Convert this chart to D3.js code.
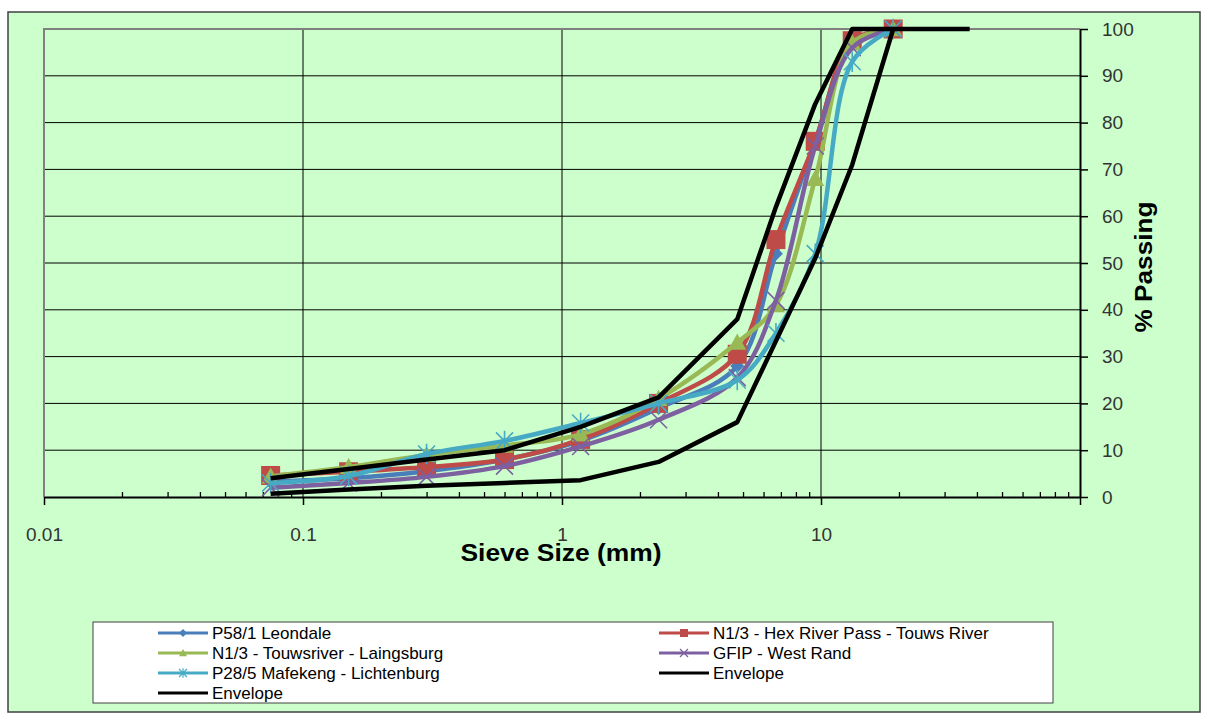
<!DOCTYPE html>
<html>
<head>
<meta charset="utf-8">
<script src="https://cdn.jsdelivr.net/npm/d3@7"></script>
<style>
body { margin: 0; background: #fff; }
text { font-family: "Liberation Sans", Arial, sans-serif; }
</style>
</head>
<body>
<svg width="1205" height="718"></svg>
<script>
// sieve sizes (mm) and % passing
var sieves = [0.075, 0.15, 0.3, 0.6, 1.18, 2.36, 4.75, 6.7, 9.5, 13.2, 19];
var leondale = [3.3, 4, 5.5, 8, 12, 19, 28, 52, 76, 97, 100];
var hexRiver = [4.6, 5.4, 6.4, 8, 12.3, 20, 30.5, 55, 76, 97.5, 100];
var touwsriver = [4.4, 6.4, 9, 11, 13.4, 21, 33, 41, 68, 97, 100];
var gfip = [2, 3, 4.3, 6.6, 10.8, 16.5, 25.5, 42, 75, 96, 100];
var mafikeng = [3, 4.5, 9.2, 12, 15.8, 20, 25, 35, 52, 93, 100];

var upperSieves = [0.075, 0.15, 0.3, 0.6, 1.18, 2.36, 4.75, 6.7, 9.5, 13.2, 19, 37.5];
var upperEnv = [4, 6, 8, 10, 15, 21.3, 38, 62, 84, 100, 100, 100];
var lowerSieves = [0.075, 0.15, 0.3, 0.6, 1.18, 2.36, 4.75, 9.5, 13.2, 19];
var lowerEnv = [0.7, 1.6, 2.4, 3, 3.6, 7.5, 16, 51, 71, 100];

var xTicks = [0.01, 0.1, 1, 10, 100];
var xTickLabels = ["0.01", "0.1", "1", "10", ""];
var yTicks = [0, 10, 20, 30, 40, 50, 60, 70, 80, 90, 100];

var svg = d3.select("svg");
var pLeft = 44, pRight = 1080, pTop = 29, pBottom = 497;

var x = d3.scaleLog().domain([0.01, 100]).range([pLeft, pRight]);
var y = d3.scaleLinear().domain([0, 100]).range([pBottom, pTop]);

// chart area
svg.append("rect").attr("x", 8).attr("y", 12).attr("width", 1192).attr("height", 700)
  .attr("fill", "#ccffcc").attr("stroke", "#404040").attr("stroke-width", 1.5);

// gridlines
svg.append("g").selectAll("line").data(yTicks.slice(1, 10)).enter().append("line")
  .attr("x1", pLeft).attr("x2", pRight).attr("y1", y).attr("y2", y)
  .attr("stroke", "#000").attr("stroke-width", 1);
svg.append("g").selectAll("line").data([0.1, 1, 10]).enter().append("line")
  .attr("x1", x).attr("x2", x).attr("y1", pTop).attr("y2", pBottom)
  .attr("stroke", "#000").attr("stroke-width", 1);

// plot border top/left
svg.append("path").attr("d", "M" + pLeft + "," + pBottom + "V" + pTop + "H" + pRight)
  .attr("fill", "none").attr("stroke", "#808080").attr("stroke-width", 2);

// minor x ticks (inside)
var minor = [];
[0.01, 0.1, 1, 10].forEach(function(d) {
  for (var k = 2; k < 10; k++) minor.push(d * k);
});
svg.append("g").attr("transform", "translate(0," + pBottom + ")")
  .call(d3.axisBottom(x).tickValues(minor).tickSize(-5).tickFormat(""))
  .call(function(g) { g.select(".domain").remove(); })
  .selectAll("line").attr("stroke", "#000").attr("stroke-width", 1.3);

// major x axis
var xa = svg.append("g").attr("transform", "translate(0," + pBottom + ")")
  .call(d3.axisBottom(x).tickValues(xTicks).tickSizeInner(8).tickSizeOuter(0)
    .tickFormat(function(d, i) { return xTickLabels[i]; }));
xa.select(".domain").attr("stroke", "#000").attr("stroke-width", 2);
xa.selectAll("line").attr("stroke", "#000").attr("stroke-width", 1.5);
xa.selectAll("text").attr("y", 31).attr("dy", "0.71em").attr("font-size", 19)
  .attr("fill", "#333").attr("font-family", "Liberation Sans, Arial, sans-serif");

// y axis on the right
var ya = svg.append("g").attr("transform", "translate(" + pRight + ",0)")
  .call(d3.axisRight(y).tickValues(yTicks).tickSizeInner(8).tickSizeOuter(0).tickPadding(14));
ya.select(".domain").attr("stroke", "#000").attr("stroke-width", 2);
ya.selectAll("line").attr("stroke", "#000").attr("stroke-width", 1.5);
ya.selectAll("text").attr("font-size", 19).attr("fill", "#333")
  .attr("font-family", "Liberation Sans, Arial, sans-serif");

// axis titles
svg.append("text").attr("x", 561).attr("y", 561).attr("text-anchor", "middle")
  .attr("font-size", 24).attr("font-weight", "bold").attr("textLength", 201)
  .attr("lengthAdjust", "spacingAndGlyphs").text("Sieve Size (mm)");
svg.append("text").attr("transform", "translate(1152,267) rotate(-90)")
  .attr("text-anchor", "middle").attr("font-size", 24).attr("font-weight", "bold")
  .attr("textLength", 131).attr("lengthAdjust", "spacingAndGlyphs").text("% Passing");

// marker shapes
function marker(type, s) {
  var h = s / 2;
  if (type == "diamond") return "M0," + (-h) + "L" + h + ",0L0," + h + "L" + (-h) + ",0Z";
  if (type == "square") return "M" + (-h) + "," + (-h) + "h" + s + "v" + s + "h" + (-s) + "Z";
  if (type == "triangle") return "M0," + (-h) + "L" + h + "," + (h * 0.8) + "L" + (-h) + "," + (h * 0.8) + "Z";
  if (type == "x") return "M" + (-h) + "," + (-h) + "L" + h + "," + h + "M" + (-h) + "," + h + "L" + h + "," + (-h);
  if (type == "star") return "M" + (-h) + "," + (-h) + "L" + h + "," + h + "M" + (-h) + "," + h + "L" + h + "," + (-h) + "M0," + (-h * 1.2) + "V" + (h * 1.2);
  return "";
}

var series = [
  { name: "P58/1 Leondale", vals: leondale, color: "#4a7ebb", m: "diamond", size: 14, filled: true },
  { name: "N1/3 - Hex River Pass - Touws River", vals: hexRiver, color: "#be4b48", m: "square", size: 19, filled: true },
  { name: "N1/3 - Touwsriver - Laingsburg", vals: touwsriver, color: "#98b954", m: "triangle", size: 18, filled: true },
  { name: "GFIP - West Rand", vals: gfip, color: "#7d60a0", m: "x", size: 17, filled: false },
  { name: "P28/5 Mafekeng - Lichtenburg", vals: mafikeng, color: "#46aac5", m: "star", size: 17, filled: false }
];

var smooth = d3.line().x(function(d) { return x(d[0]); }).y(function(d) { return y(d[1]); })
  .curve(d3.curveCatmullRom);
var straight = d3.line().x(function(d) { return x(d[0]); }).y(function(d) { return y(d[1]); });

series.forEach(function(s) {
  var pts = d3.zip(sieves, s.vals);
  var g = svg.append("g");
  g.append("path").attr("d", smooth(pts)).attr("fill", "none")
    .attr("stroke", s.color).attr("stroke-width", 4.5).attr("stroke-linejoin", "round");
  g.selectAll("path.mk").data(pts).enter().append("path").attr("class", "mk")
    .attr("transform", function(d) { return "translate(" + x(d[0]) + "," + y(d[1]) + ")"; })
    .attr("d", marker(s.m, s.size))
    .attr("fill", s.filled ? s.color : "none")
    .attr("stroke", s.color).attr("stroke-width", s.filled ? 0 : 1.6);
});

// envelopes
[[upperSieves, upperEnv], [lowerSieves, lowerEnv]].forEach(function(e) {
  svg.append("path").attr("d", straight(d3.zip(e[0], e[1]))).attr("fill", "none")
    .attr("stroke", "#000").attr("stroke-width", 4.5).attr("stroke-linejoin", "round");
});

// legend
svg.append("rect").attr("x", 93).attr("y", 622).attr("width", 960).attr("height", 81)
  .attr("fill", "#fff").attr("stroke", "#404040").attr("stroke-width", 1);

var legendItems = [
  { s: series[0], col: 0, row: 0 },
  { s: series[1], col: 1, row: 0 },
  { s: series[2], col: 0, row: 1 },
  { s: series[3], col: 1, row: 1 },
  { s: series[4], col: 0, row: 2 },
  { s: { name: "Envelope", color: "#000", m: "none" }, col: 1, row: 2 },
  { s: { name: "Envelope", color: "#000", m: "none" }, col: 0, row: 3 }
];
var colX = [158, 659];

legendItems.forEach(function(it) {
  var lx = colX[it.col], ly = 633 + it.row * 20;
  var g = svg.append("g");
  g.append("line").attr("x1", lx).attr("x2", lx + 50).attr("y1", ly).attr("y2", ly)
    .attr("stroke", it.s.color).attr("stroke-width", 3);
  if (it.s.m != "none") {
    g.append("path").attr("transform", "translate(" + (lx + 25) + "," + ly + ")")
      .attr("d", marker(it.s.m, 8))
      .attr("fill", it.s.filled ? it.s.color : "none")
      .attr("stroke", it.s.color).attr("stroke-width", it.s.filled ? 0 : 1.2);
  }
  g.append("text").attr("x", lx + 54).attr("y", ly + 6).attr("font-size", 17)
    .attr("fill", "#000").text(it.s.name);
});
</script>
</body>
</html>
